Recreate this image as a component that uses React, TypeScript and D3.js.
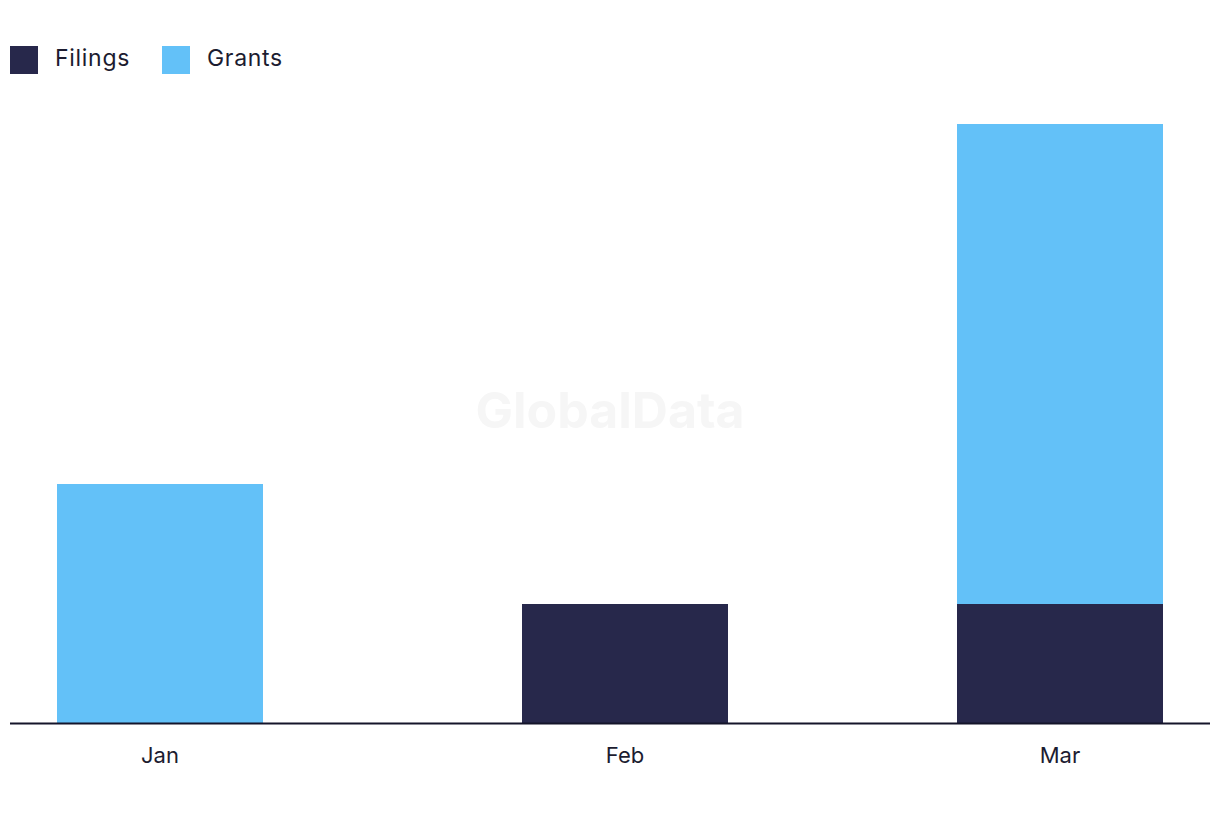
import React from "react";
import * as d3 from "d3";

const months = ["Jan", "Feb", "Mar"];
const monthDates = ["2024-01-01", "2024-02-01", "2024-03-01"];
const filings = [0, 1, 1];
const grants = [2, 0, 4];
const seriesNames = ["Filings", "Grants"];
const colors = ["#27284b", "#63c1f8"];

const W = 1220;
const H = 822;

export default function App() {
  const parse = d3.timeParse("%Y-%m-%d");
  const dates = monthDates.map((d) => parse(d) as Date);
  const x = d3
    .scaleTime()
    .domain([d3.timeDay.offset(dates[0], -10), d3.timeDay.offset(dates[2], 10)])
    .range([10, 1210]);
  const y = d3.scaleLinear().domain([0, 5]).range([724, 124]);
  const rows = months.map((m, i) => ({ month: m, date: dates[i], Filings: filings[i], Grants: grants[i] }));
  const stacked = d3.stack<any>().keys(seriesNames)(rows);
  const barW = 206;

  return (
    <div style={{ position: "fixed", left: 0, top: 0 }}>
      <svg width={W} height={H} style={{ display: "block", fontFamily: "Inter, 'Noto Sans', sans-serif" }}>
        <rect width={W} height={H} fill="#fff" />
        <text x={610} y={428} textAnchor="middle" fontSize={50} fontWeight={700} fill="#f6f6f6">
          GlobalData
        </text>
        {stacked.map((s, si) =>
          s.map((d, i) =>
            d[1] - d[0] > 0 ? (
              <rect
                key={`${si}-${i}`}
                x={x(rows[i].date) - barW / 2}
                y={y(d[1])}
                width={barW}
                height={y(d[0]) - y(d[1])}
                fill={colors[si]}
              />
            ) : null
          )
        )}
        <line x1={10} x2={1210} y1={723.5} y2={723.5} stroke="#15152a" strokeWidth={2} />
        {rows.map((r, i) => (
          <text key={r.month} x={x(r.date)} y={763} textAnchor="middle" fontSize={22} fill="#1c1c30">
            {r.month}
          </text>
        ))}
        {seriesNames.map((n, i) => {
          const lx = i === 0 ? 10 : 162;
          return (
            <g key={n}>
              <rect x={lx} y={46} width={28} height={28} fill={colors[i]} />
              <text x={lx + 45} y={66} fontSize={23} letterSpacing={0.7} fill="#1c1c30">
                {n}
              </text>
            </g>
          );
        })}
      </svg>
    </div>
  );
}
